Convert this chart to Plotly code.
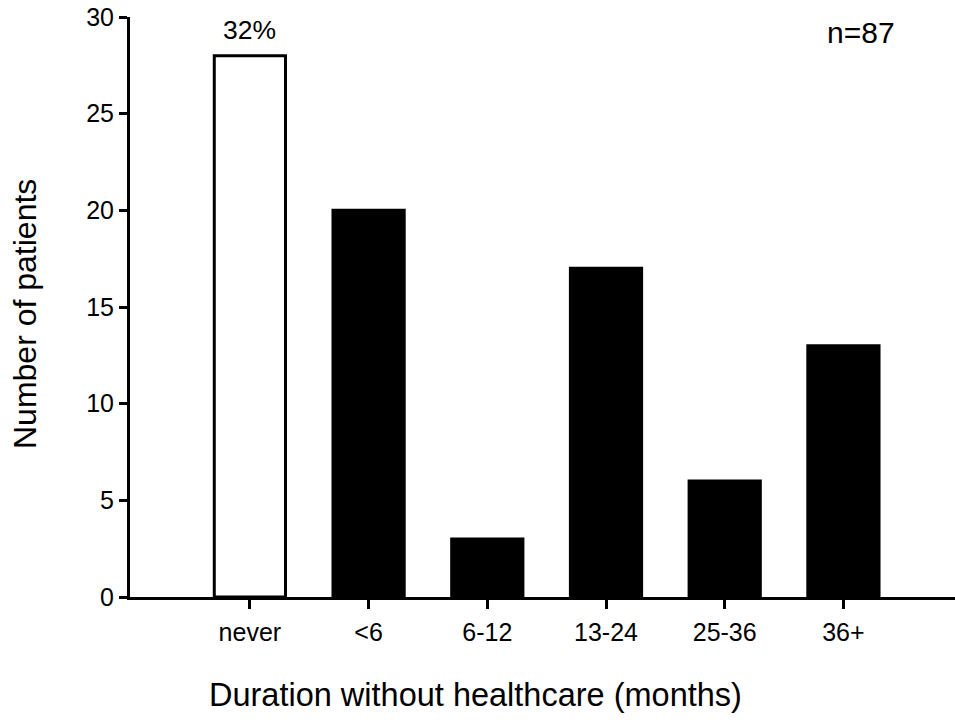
import plotly.graph_objects as go

categories = ["never", "<6", "6-12", "13-24", "25-36", "36+"]
patients = [28, 20, 3, 17, 6, 13]
y_ticks = [0, 5, 10, 15, 20, 25, 30]
pct_label = "32%"
n_label = "n=87"
x_title = "Duration without healthcare (months)"
y_title = "Number of patients"

FONT = "Liberation Sans, Arial, sans-serif"
fill = ["white"] + ["black"] * (len(categories) - 1)

W, H = 955, 720
L, T, R, B = 130, 17, 0, 123
PW, PH = W - L - R, H - T - B

fig = go.Figure(go.Bar(
    x=categories, y=patients, width=0.6,
    marker=dict(color=fill, line=dict(color="black", width=3)),
    hoverinfo="skip",
))

fig.update_layout(
    width=W, height=H,
    margin=dict(l=L, r=R, t=T, b=B, autoexpand=False),
    plot_bgcolor="white", paper_bgcolor="white",
    font=dict(family=FONT, color="black", size=25),
    showlegend=False,
)
fig.update_xaxes(
    type="category", range=[-1.01, 5.94], automargin=False,
    showline=True, linecolor="black", linewidth=3,
    ticks="outside", ticklen=9, tickwidth=3, tickcolor="black",
    ticklabelstandoff=2, ticklabeloverflow="allow",
    showgrid=False, zeroline=False,
    tickfont=dict(size=25, family=FONT),
)
fig.update_yaxes(
    range=[0, 30], tickvals=y_ticks, automargin=False,
    showline=True, linecolor="black", linewidth=3,
    ticks="outside", ticklen=8, tickwidth=3, tickcolor="black",
    ticklabeloverflow="allow",
    showgrid=False, zeroline=False,
    tickfont=dict(size=25, family=FONT),
)

fig.add_annotation(x=0, y=patients[0], xref="x", yref="y", text=pct_label,
                   showarrow=False, yanchor="bottom", yshift=9,
                   font=dict(size=26.5, family=FONT))
fig.add_annotation(x=5.15, y=29.2, xref="x", yref="y", text=n_label,
                   showarrow=False, font=dict(size=30, family=FONT))
# titles placed relative to the plot area (reference pixel positions)
fig.add_annotation(x=(475 - 130) / PW, y=-(695 - 597) / PH,
                   xref="paper", yref="paper", text=x_title,
                   showarrow=False, xanchor="center", yanchor="middle",
                   font=dict(size=32.5, family=FONT))
fig.add_annotation(x=-(130 - 25) / PW, y=0.5 - (314 - 307) / PH,
                   xref="paper", yref="paper", text=y_title,
                   textangle=-90, showarrow=False,
                   xanchor="center", yanchor="middle",
                   font=dict(size=32, family=FONT))

fig.write_html("out.html",
               config={"displayModeBar": False, "staticPlot": True},
               post_script="document.body.style.margin='0';"
                           "document.body.style.overflow='hidden';")
